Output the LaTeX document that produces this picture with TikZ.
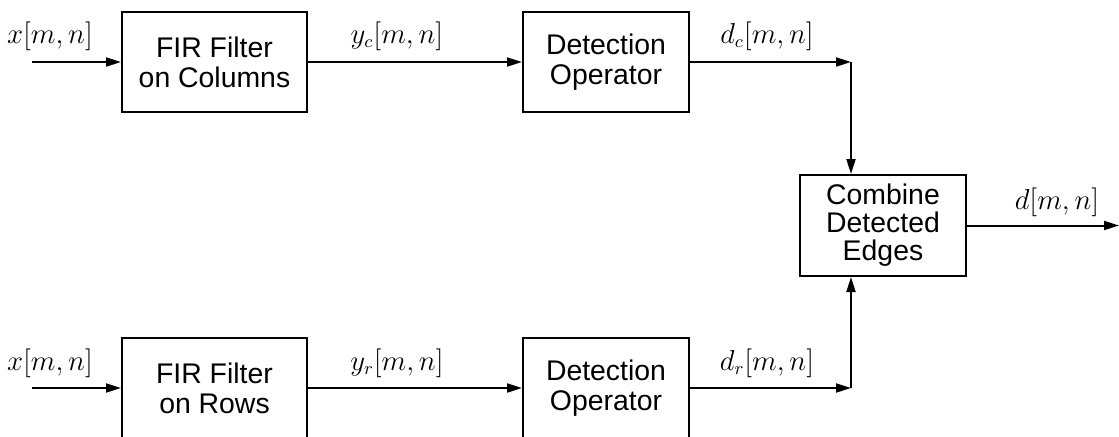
\documentclass[tikz,border=0pt]{standalone}
\usepackage{fontspec}
\setsansfont{Liberation Sans}
\usetikzlibrary{arrows.meta}
\tikzset{
  block/.style={draw, line width=1pt, minimum width=#1, minimum height=50pt,
    inner sep=0pt, align=center, font=\sffamily\fontsize{14.2}{15}\selectfont},
  sig/.style={line width=1pt, -{Triangle[length=7.5pt,width=4.5pt]}},
  lab/.style={inner sep=0pt, anchor=base, font=\fontsize{13.5}{15}\selectfont}
}
\begin{document}
\begin{tikzpicture}[x=0.5pt,y=0.5pt]
\useasboundingbox (0,0) rectangle (1119,436);
% Column branch
\node[block=92.5pt] (firc) at (214.5,374) {FIR Filter\\on Columns};
\node[block=83pt] (detc) at (606,374) {Detection\\Operator};
% Row branch
\node[block=92.5pt] (firr) at (214.5,48) {FIR Filter\\on Rows};
\node[block=83pt] (detr) at (606,48) {Detection\\Operator};
% Combining block
\node[block=83pt, minimum height=50.5pt, font=\sffamily\fontsize{14.2}{14}\selectfont]
  (comb) at (883,210.5) {Combine\\Detected\\Edges};
% Free ends and corners
\coordinate (inc) at (32,374);
\coordinate (inr) at (32,48);
\coordinate (jc) at (851,374);
\coordinate (jr) at (851,48);
\coordinate (out) at (1119,210.5);
% Signals along the column branch
\draw[sig] (inc) -- (firc);
\draw[sig] (firc) -- (detc);
\draw[sig] (detc) -- (jc);
\draw[sig] (jc) -- (jc |- comb.north);
% Signals along the row branch
\draw[sig] (inr) -- (firr);
\draw[sig] (firr) -- (detr);
\draw[sig] (detr) -- (jr);
\draw[sig] (jr) -- (jr |- comb.south);
% Output
\draw[sig] (comb) -- (out);
% Signal labels
\node[lab] (xc) at (50,393) {$x[m,n]$};
\node[lab] (yc) at (397,393) {$y_c[m,n]$};
\node[lab] (dc) at (767,393) {$d_c[m,n]$};
\node[lab] (xr) at (50,66) {$x[m,n]$};
\node[lab] (yr) at (397,66) {$y_r[m,n]$};
\node[lab] (dr) at (767,66) {$d_r[m,n]$};
\node[lab] (d) at (1057,227) {$d[m,n]$};
\end{tikzpicture}
\end{document}
